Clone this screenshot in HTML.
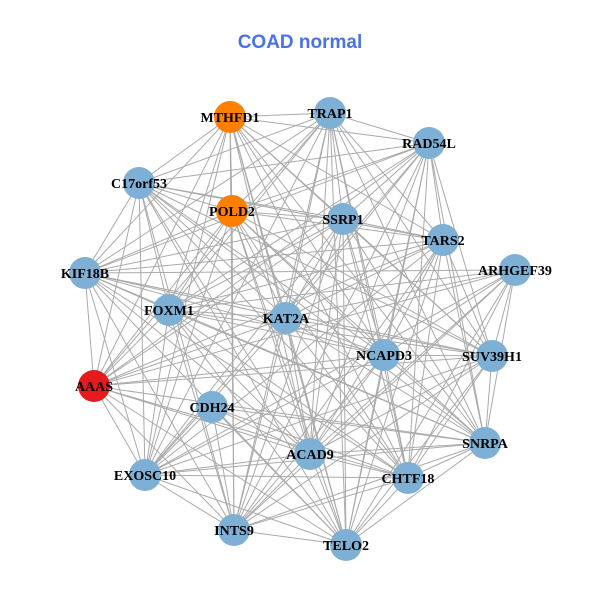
<!DOCTYPE html>
<html><head><meta charset="utf-8"><style>
html,body{margin:0;padding:0;background:#fff;width:600px;height:600px;overflow:hidden}
</style></head><body>
<svg id="g" width="600" height="600" xmlns="http://www.w3.org/2000/svg">
<rect width="600" height="600" fill="#fff"/>
<text x="300" y="48" text-anchor="middle" font-family="Liberation Sans, sans-serif" font-weight="bold" font-size="19" fill="#4a72e8">COAD normal</text>
<g id="edges" stroke="#aaaaaa" stroke-width="1"></g>
<g id="nodes"></g>
</svg>
<script>
var N=[["MTHFD1",230,117,"#ff7f00"],["TRAP1",330,113],["RAD54L",429,143],["C17orf53",139,183],["POLD2",232,211,"#ff7f00"],["SSRP1",343,219],["TARS2",443,240],["ARHGEF39",515,270],["KIF18B",85,273],["FOXM1",169,310],["KAT2A",286,318],["NCAPD3",384,355],["SUV39H1",492,356],["AAAS",94,386,"#e41a1c"],["CDH24",212,407],["SNRPA",485,443],["ACAD9",310,454],["CHTF18",408,478],["EXOSC10",145,475],["INTS9",234,530],["TELO2",346,545]];
var e=document.getElementById("edges"),nd=document.getElementById("nodes"),ns="http://www.w3.org/2000/svg";
var k=0;
for(var i=0;i<N.length;i++)for(var j=i+1;j<N.length;j++){k++;
 if((i*7+j*3)%7==0)continue;
 var l=document.createElementNS(ns,"line");
 l.setAttribute("x1",N[i][1]);l.setAttribute("y1",N[i][2]);l.setAttribute("x2",N[j][1]);l.setAttribute("y2",N[j][2]);e.appendChild(l);}
N.forEach(function(n){
 var c=document.createElementNS(ns,"circle");c.setAttribute("cx",n[1]);c.setAttribute("cy",n[2]);c.setAttribute("r",16);c.setAttribute("fill",n[3]||"#7eb0d5");nd.appendChild(c);
 var t=document.createElementNS(ns,"text");t.setAttribute("x",n[1]);t.setAttribute("y",n[2]+5);t.setAttribute("text-anchor","middle");
 t.setAttribute("font-family","Liberation Serif, serif");t.setAttribute("font-weight","bold");t.setAttribute("font-size","14");t.textContent=n[0];nd.appendChild(t);
});
</script>
</body></html>
